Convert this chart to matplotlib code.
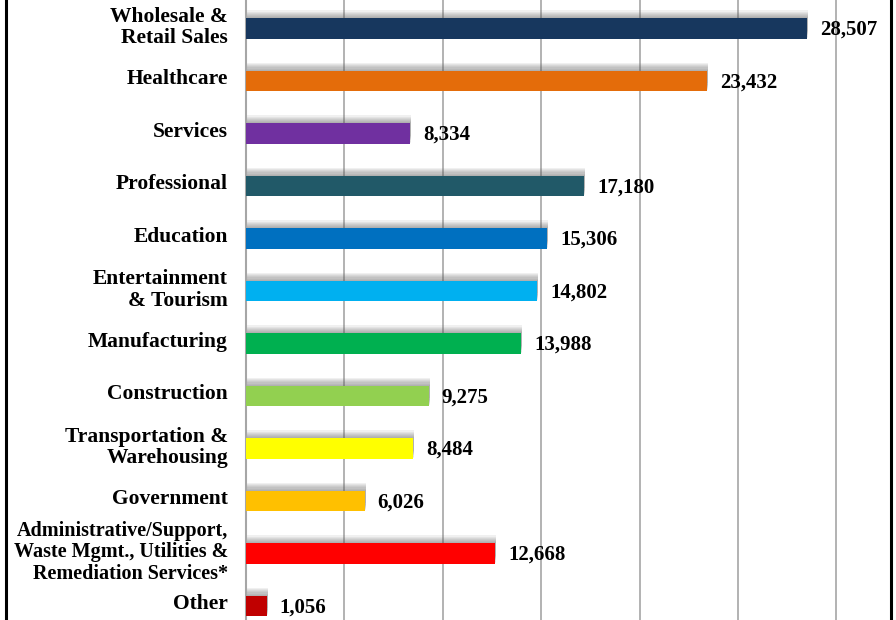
import matplotlib.pyplot as plt
import matplotlib.patheffects as pe
import matplotlib.transforms as mtransforms
from matplotlib.lines import Line2D

categories = [
    "Wholesale &\nRetail Sales",
    "Healthcare",
    "Services",
    "Professional",
    "Education",
    "Entertainment\n& Tourism",
    "Manufacturing",
    "Construction",
    "Transportation &\nWarehousing",
    "Government",
    "Administrative/Support,\nWaste Mgmt., Utilities &\nRemediation Services*",
    "Other",
]
values = [28507, 23432, 8334, 17180, 15306, 14802, 13988, 9275, 8484, 6026, 12668, 1056]
colors = ["#17375E", "#E46C0A", "#7030A0", "#215968", "#0070C0", "#00B0F0",
          "#00B050", "#92D050", "#FFFF00", "#FFC000", "#FF0000", "#C00000"]
grid_ticks = [5000, 10000, 15000, 20000, 25000, 30000]

plt.rcParams['font.family'] = ['Liberation Serif', 'DejaVu Serif']

fig = plt.figure(figsize=(8.96, 6.2), dpi=100)
ax = fig.add_axes([246 / 896, 0, 650 / 896, 1])

# soft drop shadow, built up from several faint offset copies
shadow = [pe.SimplePatchShadow(offset=(0.8, 0.8 * k), shadow_rgbFace='#606060', alpha=0.09)
          for k in range(1, 8)]
shadow.append(pe.Normal())

y = list(range(len(categories)))
bars = ax.barh(y, values, height=0.39, color=colors, zorder=3)
for b in bars:
    b.set_path_effects(shadow)

for yi, v in zip(y, values):
    ax.text(v + 650, yi + 0.03, f"{v:,}", va='center', ha='left',
            fontsize=15, fontweight='bold', zorder=4)

ax.set_xlim(0, 650 / 0.01968)
ax.set_ylim(11.267, -0.543)
ax.set_xticks(grid_ticks)
ax.set_xticklabels([])
ax.tick_params(axis='x', length=0)
ax.grid(axis='x', color='#A6A6A6', linewidth=1.2, zorder=0)
ax.set_axisbelow(True)

ax.set_yticks(y)
ticklabels = ax.set_yticklabels(categories, fontsize=15.5, fontweight='bold', linespacing=1.08)
ticklabels[10].set_fontsize(14.5)  # long three-line label, keep it inside the frame
ax.tick_params(axis='y', length=0, pad=13)
# category names sit a little above the bar centre
lift = mtransforms.ScaledTranslation(0, 3 / 72, fig.dpi_scale_trans)
for lbl in ax.get_yticklabels():
    lbl.set_transform(lbl.get_transform() + lift)

for s in ['top', 'right', 'bottom']:
    ax.spines[s].set_visible(False)
ax.spines['left'].set_color('#A6A6A6')
ax.spines['left'].set_linewidth(1.5)

# outer frame edges
fig.add_artist(Line2D([5.5 / 896, 5.5 / 896], [0, 1], color='black', linewidth=2.2,
                      transform=fig.transFigure))
fig.add_artist(Line2D([890.5 / 896, 890.5 / 896], [0, 1], color='black', linewidth=2.2,
                      transform=fig.transFigure))

fig.savefig("out.png", dpi=100)
